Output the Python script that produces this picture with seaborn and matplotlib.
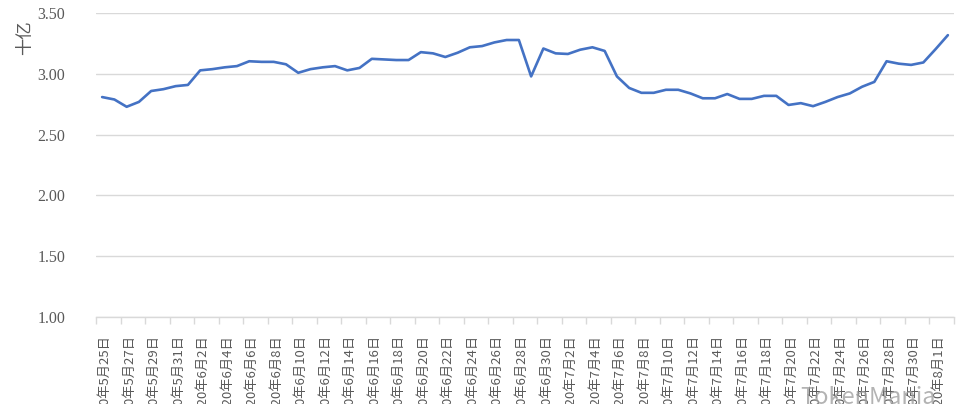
import matplotlib
matplotlib.use("Agg")
import matplotlib.pyplot as plt
import seaborn as sns
import pandas as pd
import numpy as np

# ---- data ----
start_date = "2020-05-25"
end_date = "2020-08-02"
values = [
    2.81, 2.79, 2.73, 2.77, 2.86, 2.875, 2.90, 2.91, 3.03, 3.04,
    3.055, 3.065, 3.105, 3.10, 3.10, 3.08, 3.01, 3.04, 3.055, 3.065,
    3.03, 3.05, 3.125, 3.12, 3.115, 3.115, 3.18, 3.17, 3.14, 3.175,
    3.22, 3.23, 3.26, 3.28, 3.28, 2.98, 3.21, 3.17, 3.165, 3.20,
    3.22, 3.19, 2.98, 2.885, 2.845, 2.845, 2.87, 2.87, 2.84, 2.80,
    2.80, 2.835, 2.795, 2.795, 2.82, 2.82, 2.745, 2.76, 2.735, 2.77,
    2.81, 2.84, 2.895, 2.935, 3.105, 3.085, 3.075, 3.095, 3.205, 3.32,
]
tick_labels = [
    "2020年5月25日", "2020年5月27日", "2020年5月29日", "2020年5月31日",
    "2020年6月2日", "2020年6月4日", "2020年6月6日", "2020年6月8日",
    "2020年6月10日", "2020年6月12日", "2020年6月14日", "2020年6月16日",
    "2020年6月18日", "2020年6月20日", "2020年6月22日", "2020年6月24日",
    "2020年6月26日", "2020年6月28日", "2020年6月30日", "2020年7月2日",
    "2020年7月4日", "2020年7月6日", "2020年7月8日", "2020年7月10日",
    "2020年7月12日", "2020年7月14日", "2020年7月16日", "2020年7月18日",
    "2020年7月20日", "2020年7月22日", "2020年7月24日", "2020年7月26日",
    "2020年7月28日", "2020年7月30日", "2020年8月1日",
]
y_ticks = [1.00, 1.50, 2.00, 2.50, 3.00, 3.50]
y_label = "十亿"
watermark = "TokenMania"

dates = pd.date_range(start_date, end_date, freq="D")
df = pd.DataFrame({"idx": np.arange(len(values)), "date": dates, "value": values})

sns.set_theme(style="white")
plt.rcParams["font.family"] = ["Noto Sans CJK SC", "DejaVu Sans"]

fig = plt.figure(figsize=(9.61, 4.04), dpi=100)
ax = fig.add_axes([96 / 961, 1 - 316.8 / 404, (954 - 96) / 961, (316.8 - 13.3) / 404])

sns.lineplot(data=df, x="idx", y="value", ax=ax, color="#4472C4", linewidth=1.9)

n = len(values)
ax.set_xlim(-0.5, n - 0.5)
ax.set_ylim(1.0, 3.5)

# y axis
ax.set_yticks(y_ticks)
ax.set_yticklabels([f"{v:.2f}" for v in y_ticks], family=["Liberation Serif", "DejaVu Serif"],
                   fontsize=11.5, color="#595959")
ax.tick_params(axis="y", length=0, pad=22)
ax.yaxis.grid(True, color="#D9D9D9", linewidth=1.0)
ax.set_axisbelow(True)

# x axis
label_pos = np.arange(0, n, 2)[: len(tick_labels)] + 0.25
ax.set_xticks(label_pos)
ax.set_xticklabels(tick_labels, rotation=90, fontsize=9.5, color="#595959", va="top", ha="center")
ax.tick_params(axis="x", length=0, pad=13)
ax.set_xticks(np.arange(-0.5, n, 2), minor=True)
ax.tick_params(axis="x", which="minor", length=5, color="#D9D9D9", width=1.0, bottom=True)

for s in ["left", "right", "top"]:
    ax.spines[s].set_visible(False)
ax.spines["bottom"].set_color("#D9D9D9")
ax.spines["bottom"].set_linewidth(1.0)

ax.set_xlabel("")
ax.set_ylabel("")
fig.text(25 / 961, 1 - 38 / 404, y_label, rotation=90, fontsize=12.5, color="#595959",
         ha="center", va="center")

fig.text(800 / 961, -0.012, watermark, fontsize=17, color="#A0A0A0", alpha=0.8,
         ha="left", va="bottom")

fig.savefig("out.png", dpi=100)
